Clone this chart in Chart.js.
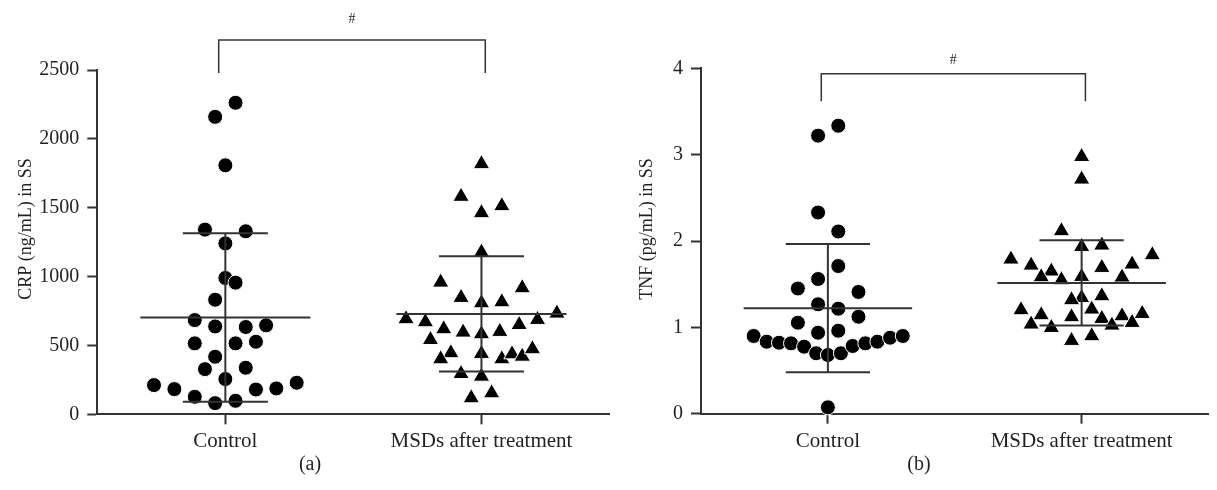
<!DOCTYPE html>
<html>
<head>
<meta charset="utf-8">
<script src="https://cdn.jsdelivr.net/npm/chart.js@4.4.1/dist/chart.umd.min.js"></script>
<style>
  html, body { margin: 0; padding: 0; background: #fff; overflow: hidden; }
  #wrap { position: relative; width: 1217px; height: 490px; }
  .panel { position: absolute; top: 0; height: 490px; }
  #crpBox { left: 0; width: 620px; }
  #tnfBox { left: 621px; width: 598px; }
</style>
</head>
<body>
<div id="wrap">
  <div class="panel" id="crpBox"><canvas id="crpChart"></canvas></div>
  <div class="panel" id="tnfBox"><canvas id="tnfChart"></canvas></div>
</div>
<script>
const categories = ['Control', 'MSDs after treatment'];

// (a) CRP in SS, values and horizontal swarm slot of each point
const crpControl = [2262, 2160, 1808, 1341, 1329, 1241, 990, 956, 832, 684, 638, 634, 646, 515,
  515, 527, 418, 328, 338, 256, 212, 183, 127, 81, 98, 180, 188, 229];
const crpControlSlot = [1, -1, 0, -2, 2, 0, 0, 1, -1, -3, -1, 2, 4, -3,
  1, 3, -1, -2, 2, 0, -7, -5, -3, -1, 1, 3, 5, 7];
const crpMsd = [1818, 1581, 1513, 1462, 1176, 958, 917, 847, 808, 815, 692, 733, 670, 687, 619, 650,
  595, 583, 600, 541, 445, 401, 440, 401, 437, 420, 474, 294, 275, 118, 154];
const crpMsdSlot = [0, -2, 2, 0, 0, -4, 4, -2, 0, 2, -7.4, 7.4, -5.5, 5.5, -3.7, 3.7,
  -1.8, 0, 1.8, -5, -3, -4, 0, 2, 3, 4, 5, -2, 0, -1, 1];
const crpMean = [703, 729];
const crpSd = [611, 418];
const crpTicks = [0, 500, 1000, 1500, 2000, 2500];

// (b) TNF in SS
const tnfControl = [3.335, 3.22, 2.33, 2.11, 1.71, 1.56, 1.45, 1.41, 1.267, 1.216, 1.123, 1.054, 0.938, 0.961,
  0.90, 0.834, 0.822, 0.815, 0.776, 0.70, 0.68, 0.70, 0.784, 0.815, 0.834, 0.88, 0.90, 0.074];
const tnfControlSlot = [1.03, -0.97, -0.97, 1.03, 1.03, -0.97, -2.97, 3.03, -0.97, 1.03, 3.03, -2.97, -0.97, 1.03,
  -7.35, -6.06, -4.84, -3.65, -2.35, -1.16, 0, 1.29, 2.45, 3.71, 4.9, 6.16, 7.42, 0];
const tnfMsd = [2.976, 2.714, 2.116, 1.934, 1.95, 1.838, 1.788, 1.718, 1.73, 1.649, 1.691, 1.583, 1.587, 1.58,
  1.548, 1.343, 1.317, 1.363, 1.209, 1.201, 1.143, 1.12, 1.10, 1.131, 1.158, 1.035, 1.023, 1.054, 0.996, 0.846, 0.90];
const tnfMsdSlot = [0, 0, -2, 0, 2, 7, -7, -5, 5, -3, 2, -4, 0, 4,
  -2, 0, -1, 2, 1, -6, -4, -1, 2, 4, 6, -5, 3, 5, -3, -1, 1];
const tnfMean = [1.222, 1.515];
const tnfSd = [0.743, 0.495];
const tnfTicks = [0, 1, 2, 3, 4];

const FONT = '"Liberation Serif", "Times New Roman", serif';
const INK = '#231f20';
const LINE = '#333';
const SLOT = 0.0398;       // one swarm step, in x units
const MEAN_HALF = 0.332;   // half length of the mean line
const CAP_HALF = 0.166;    // half length of the SD caps

function swarm(values, slots, pos) {
  return values.map((v, i) => ({ x: pos + slots[i] * SLOT, y: v }));
}

// mean line, SD whisker and caps for each group, segments split by null gaps
function errorBars(means, sds) {
  const pts = [];
  means.forEach((m, i) => {
    const c = i + 1, hi = m + sds[i], lo = m - sds[i];
    pts.push({ x: c - MEAN_HALF, y: m }, { x: c + MEAN_HALF, y: m }, { x: c, y: null });
    pts.push({ x: c - CAP_HALF, y: hi }, { x: c + CAP_HALF, y: hi }, { x: c, y: null });
    pts.push({ x: c - CAP_HALF, y: lo }, { x: c + CAP_HALF, y: lo }, { x: c, y: null });
    pts.push({ x: c, y: lo }, { x: c, y: hi }, { x: c, y: null });
  });
  return pts;
}

// significance mark, y-axis title and panel caption
const annotate = {
  id: 'annotate',
  afterDraw(chart, args, opts) {
    const { ctx, scales: { x, y } } = chart;
    ctx.save();
    ctx.fillStyle = INK;
    ctx.textAlign = 'center';
    ctx.textBaseline = 'middle';
    ctx.font = '14px ' + FONT;
    ctx.fillText('#', x.getPixelForValue(opts.markX), y.getPixelForValue(opts.markY));
    ctx.font = '20px ' + FONT;
    ctx.fillText(opts.caption, opts.captionX, 465);
    ctx.translate(26, 229);
    ctx.rotate(-Math.PI / 2);
    ctx.font = '18px ' + FONT;
    ctx.fillText(opts.title, 0, 0);
    ctx.restore();
  }
};

function makeChart(id, cfg) {
  const markX = (cfg.bracket[0].x + cfg.bracket[2].x) / 2;
  return new Chart(document.getElementById(id), {
    type: 'scatter',
    data: {
      datasets: [
        { data: cfg.bars, showLine: true, pointRadius: 0, borderColor: LINE, borderWidth: 2, spanGaps: false, order: 0 },
        { data: cfg.bracket, showLine: true, pointRadius: 0, borderColor: LINE, borderWidth: 1.5, clip: false, order: 0 },
        { data: cfg.control, pointStyle: 'circle', pointRadius: 7.5, backgroundColor: '#000',
          borderColor: '#fff', borderWidth: 1, clip: false, order: 1 },
        { data: cfg.msd, pointStyle: 'triangle', pointRadius: 9.5, backgroundColor: '#000',
          borderColor: '#fff', borderWidth: 1, clip: false, order: 1 }
      ]
    },
    options: {
      responsive: true,
      maintainAspectRatio: false,
      animation: false,
      layout: { padding: { top: cfg.top, right: cfg.right, left: 0, bottom: 0 } },
      plugins: {
        legend: { display: false },
        tooltip: { enabled: false },
        annotate: { markX: markX, markY: cfg.markY, caption: cfg.caption, captionX: cfg.captionX, title: cfg.title }
      },
      scales: {
        x: {
          type: 'linear', min: 0.5, max: 2.5,
          afterBuildTicks: s => { s.ticks = [{ value: 1 }, { value: 2 }]; },
          afterFit: s => { s.height = cfg.xHeight; },
          ticks: { callback: v => categories[v - 1], color: INK, font: { family: FONT, size: 21 },
            padding: 5, maxRotation: 0, autoSkip: false },
          grid: { drawOnChartArea: false, tickLength: 10, tickColor: LINE, tickWidth: 2 },
          border: { color: LINE, width: 2 }
        },
        y: {
          min: cfg.ticks[0], max: cfg.ticks[cfg.ticks.length - 1],
          afterBuildTicks: s => { s.ticks = cfg.ticks.map(v => ({ value: v })); },
          afterFit: s => { s.width = cfg.yWidth; },
          ticks: { callback: v => String(v), color: INK, font: { family: FONT, size: 20 }, padding: 8 },
          grid: { drawOnChartArea: false, tickLength: 10, tickColor: LINE, tickWidth: 2 },
          border: { color: LINE, width: 2 }
        }
      }
    },
    plugins: [annotate]
  });
}

makeChart('crpChart', {
  control: swarm(crpControl, crpControlSlot, 1),
  msd: swarm(crpMsd, crpMsdSlot, 2),
  bars: errorBars(crpMean, crpSd),
  bracket: [{ x: 0.974, y: 2478 }, { x: 0.974, y: 2717 }, { x: 2.015, y: 2717 }, { x: 2.015, y: 2478 }],
  markY: 2870,
  ticks: crpTicks,
  title: 'CRP (ng/mL) in SS',
  caption: '(a)', captionX: 310,
  top: 70, right: 5, yWidth: 97.3, xHeight: 75.7
});

makeChart('tnfChart', {
  control: swarm(tnfControl, tnfControlSlot, 1),
  msd: swarm(tnfMsd, tnfMsdSlot, 2),
  bars: errorBars(tnfMean, tnfSd),
  bracket: [{ x: 0.974, y: 3.618 }, { x: 0.974, y: 3.937 }, { x: 2.015, y: 3.937 }, { x: 2.015, y: 3.618 }],
  markY: 4.096,
  ticks: tnfTicks,
  title: 'TNF (pg/mL) in SS',
  caption: '(b)', captionX: 298,
  top: 68.3, right: 0, yWidth: 80, xHeight: 76.3
});
</script>
</body>
</html>
